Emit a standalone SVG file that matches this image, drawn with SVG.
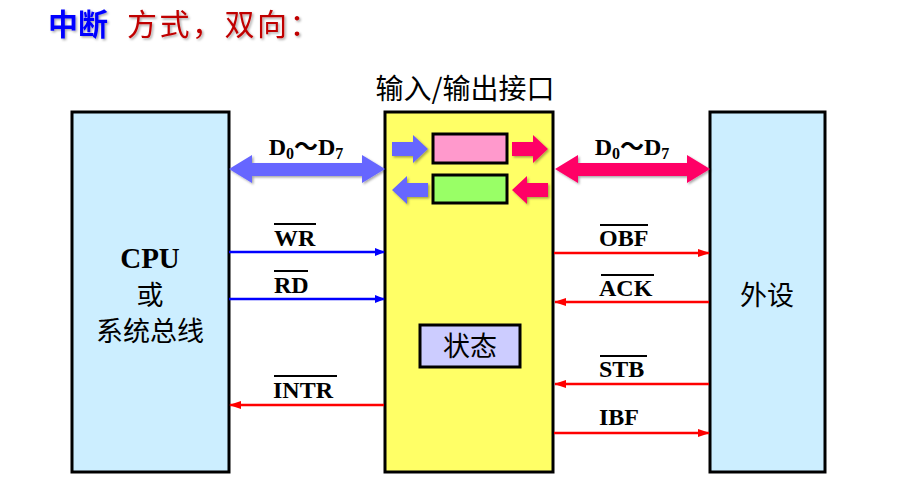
<svg xmlns="http://www.w3.org/2000/svg" width="897" height="477" viewBox="0 0 897 477">
<style>
.box{stroke:#000;stroke-width:3}
.lbl{font-family:"Liberation Serif",serif;font-weight:bold;font-size:24px;fill:#000}
.big{font-size:29px}
.sub{font-size:16px}
.tl{font-family:"Noto Sans CJK SC",sans-serif;font-size:24px}
.cjk{font-family:"Noto Sans CJK SC",sans-serif;font-size:27px;fill:#000}
.blue{stroke:#0000ff;stroke-width:2.5;fill:none}
.red{stroke:#ff0000;stroke-width:2.5;fill:none}
.ov{stroke:#000;stroke-width:2}
</style>
<defs>
<marker id="ab" markerWidth="10" markerHeight="8" refX="9" refY="4" orient="auto" markerUnits="userSpaceOnUse"><path d="M0,0 L10,4 L0,8 Z" fill="#0000ff"/></marker>
<marker id="ar" markerWidth="12" markerHeight="8" refX="11" refY="4" orient="auto" markerUnits="userSpaceOnUse"><path d="M0,0 L12,4 L0,8 Z" fill="#ff0000"/></marker>
<filter id="sh" x="-20%" y="-50%" width="150%" height="200%"><feDropShadow dx="1.5" dy="1.5" stdDeviation="1" flood-color="#000" flood-opacity="0.35"/></filter>
</defs>
<rect width="897" height="477" fill="#fff"/>
<g id="title" filter="url(#sh)">
<text x="48" y="35" font-family="Noto Sans CJK SC,sans-serif" font-size="30" font-weight="bold" fill="#0000ff">中断</text>
<text x="127" y="35" font-family="Noto Sans CJK SC,sans-serif" font-size="30" letter-spacing="2.5" fill="#c00000">方式，双向：</text>
</g>
<g id="cpu">
<rect class="box" x="72" y="112" width="157" height="360" fill="#cceeff"/>
<text x="150" y="268" text-anchor="middle" class="lbl big">CPU</text>
<text x="150" y="305" text-anchor="middle" class="cjk">或</text>
<text x="150" y="341" text-anchor="middle" class="cjk">系统总线</text>
</g>
<g id="iface">
<text x="465" y="99" text-anchor="middle" class="cjk" style="font-size:28px">输入/输出接口</text>
<rect class="box" x="385" y="112" width="168" height="360" fill="#ffff66"/>
<rect class="box" x="433" y="134" width="74" height="29" fill="#ff99cc"/>
<rect class="box" x="433" y="175" width="74" height="28" fill="#99ff66"/>
<rect class="box" x="420" y="325" width="100" height="42" fill="#ccccff"/>
<text x="470" y="356" text-anchor="middle" class="cjk">状态</text>
<g filter="url(#sh)">
<path d="M392,142 L413,142 L413,135 L428,149 L413,163 L413,156 L392,156 Z" fill="#6666ff"/>
<path d="M512,142 L533,142 L533,135 L548,149 L533,163 L533,156 L512,156 Z" fill="#ff0066"/>
<path d="M428,183 L407,183 L407,176 L392,190 L407,204 L407,197 L428,197 Z" fill="#6666ff"/>
<path d="M548,183 L527,183 L527,176 L512,190 L527,204 L527,197 L548,197 Z" fill="#ff0066"/>
</g>
</g>
<g id="periph">
<rect class="box" x="710" y="112" width="115" height="360" fill="#cceeff"/>
<text x="767" y="305" text-anchor="middle" class="cjk">外设</text>
</g>
<g id="connectors">
<g filter="url(#sh)">
<path d="M229,169 L252,155 L252,163 L362,163 L362,155 L385,169 L362,183 L362,176 L252,176 L252,183 Z" fill="#6666ff"/>
<path d="M555,169 L578,155 L578,163 L687,163 L687,155 L710,169 L687,183 L687,176 L578,176 L578,183 Z" fill="#ff0066"/>
</g>
<text x="306" y="155" text-anchor="middle" class="lbl">D<tspan class="sub" dy="4">0</tspan><tspan class="tl" dy="-4">～</tspan>D<tspan class="sub" dy="4">7</tspan></text>
<text x="632" y="155" text-anchor="middle" class="lbl">D<tspan class="sub" dy="4">0</tspan><tspan class="tl" dy="-4">～</tspan>D<tspan class="sub" dy="4">7</tspan></text>
<line class="blue" x1="229" y1="252" x2="384" y2="252" marker-end="url(#ab)"/>
<text x="274" y="246" class="lbl">WR</text><line class="ov" x1="274" y1="224" x2="316" y2="224"/>
<line class="blue" x1="229" y1="299" x2="384" y2="299" marker-end="url(#ab)"/>
<text x="274" y="293" class="lbl">RD</text><line class="ov" x1="274" y1="271" x2="308" y2="271"/>
<line class="red" x1="384" y1="405" x2="230" y2="405" marker-end="url(#ar)"/>
<text x="273" y="398" class="lbl">INTR</text><line class="ov" x1="274" y1="376" x2="337" y2="376"/>
<line class="red" x1="554" y1="253" x2="709" y2="253" marker-end="url(#ar)"/>
<text x="599" y="246" class="lbl">OBF</text><line class="ov" x1="600" y1="225" x2="648" y2="225"/>
<line class="red" x1="709" y1="302" x2="555" y2="302" marker-end="url(#ar)"/>
<text x="599" y="296" class="lbl">ACK</text><line class="ov" x1="601" y1="275" x2="654" y2="275"/>
<line class="red" x1="709" y1="384" x2="555" y2="384" marker-end="url(#ar)"/>
<text x="599" y="377" class="lbl">STB</text><line class="ov" x1="600" y1="356" x2="647" y2="356"/>
<line class="red" x1="554" y1="433" x2="709" y2="433" marker-end="url(#ar)"/>
<text x="599" y="425" class="lbl">IBF</text>
</g>
</svg>
